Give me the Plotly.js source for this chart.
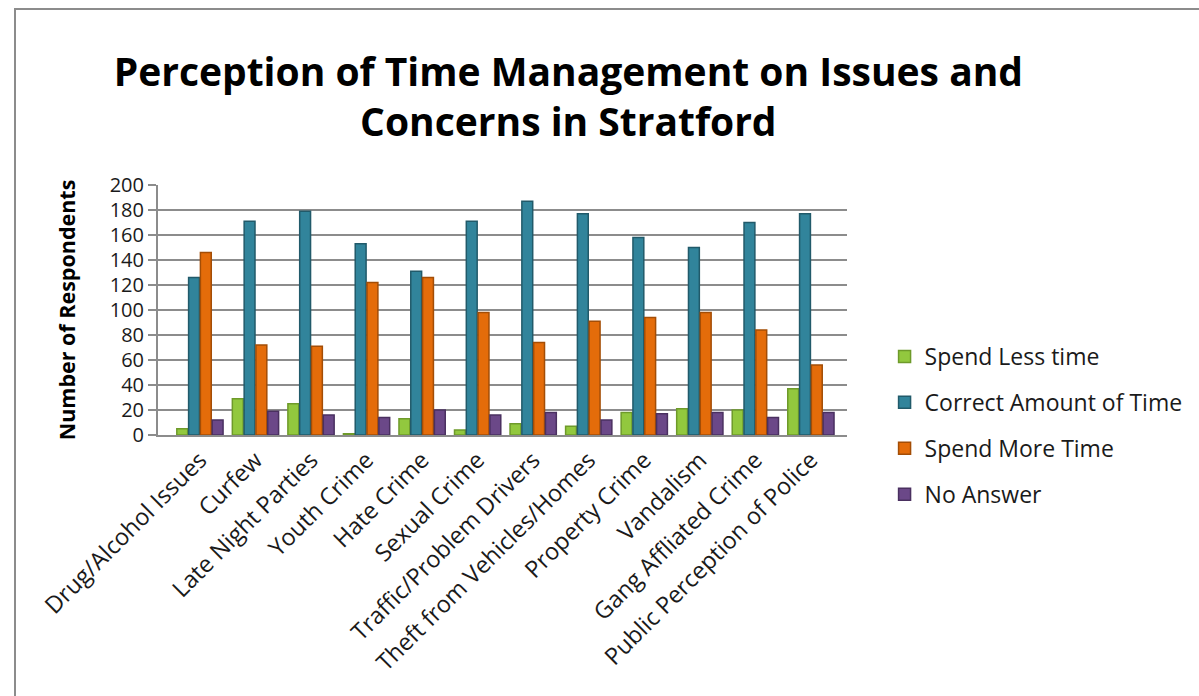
<!DOCTYPE html>
<html>
<head>
<meta charset="utf-8">
<script src="https://cdn.plot.ly/plotly-3.0.1.min.js"></script>
<style>
  html, body { margin: 0; padding: 0; background: #fff; }
  #chart { width: 1199px; height: 696px; }
  #frame { position: absolute; left: 14px; top: 8px; width: 1300px; height: 800px;
           border-left: 2px solid #8c8c8c; border-top: 2px solid #8c8c8c; pointer-events: none; }
</style>
</head>
<body>
<div id="chart"></div>
<div id="frame"></div>
<script>
const categories = ["Drug/Alcohol Issues", "Curfew", "Late Night Parties", "Youth Crime", "Hate Crime",
  "Sexual Crime", "Traffic/Problem Drivers", "Theft from Vehicles/Homes", "Property Crime",
  "Vandalism", "Gang Affliated Crime", "Public Perception of Police"];
const spendLess  = [5, 29, 25, 1, 13, 4, 9, 7, 18, 21, 20, 37];
const correct    = [126, 171, 179, 153, 131, 171, 187, 177, 158, 150, 170, 177];
const spendMore  = [146, 72, 71, 122, 126, 98, 74, 91, 94, 98, 84, 56];
const noAnswer   = [12, 19, 16, 14, 20, 16, 18, 12, 17, 18, 14, 18];
const seriesNames = ["Spend Less time", "Correct Amount of Time", "Spend More Time", "No Answer"];
const seriesColors = ["#92C83E", "#31849B", "#E46C0A", "#6B4888"];
const edgeColors = ["#6E9A2A", "#215A6A", "#A34D06", "#4A3060"];
const series = [spendLess, correct, spendMore, noAnswer];

const FONT = "'Open Sans', Lato, sans-serif";

const traces = series.map((vals, i) => ({
  type: "bar",
  name: seriesNames[i],
  x: categories,
  y: vals,
  marker: { color: seriesColors[i], line: { color: edgeColors[i], width: 1.5 } },
  legendgroup: "g" + i
}));

const layout = {
  width: 1199, height: 696,
  paper_bgcolor: "#ffffff", plot_bgcolor: "#ffffff",
  margin: { l: 158, r: 351, t: 185, b: 261 },
  barmode: "group",
  bargap: 0.15,
  bargroupgap: 0.08,
  font: { family: FONT, color: "#1a1a1a" },
  title: {
    text: "<b>Perception of Time Management on Issues and<br>Concerns in Stratford</b>",
    font: { family: FONT, size: 39, color: "#000" },
    x: 0.474, xanchor: "center", xref: "container",
    y: 0.877, yanchor: "top", yref: "container"
  },
  xaxis: {
    range: [-0.755, 11.65],
    tickangle: -45,
    tickfont: { size: 23.5, family: FONT, color: "#1a1a1a" },
    showline: true, linecolor: "#8c8c8c", linewidth: 2,
    showgrid: false, ticks: "",
    automargin: false
  },
  yaxis: {
    range: [0, 200],
    dtick: 20,
    tickfont: { size: 20, family: FONT, color: "#1a1a1a" },
    showgrid: true, gridcolor: "#8c8c8c", gridwidth: 2,
    showline: true, linecolor: "#8c8c8c", linewidth: 2,
    ticks: "outside", ticklen: 8, tickcolor: "#8c8c8c", tickwidth: 2,
    zeroline: false,
    title: { text: "<b>Number of Respondents</b>", font: { size: 21.5, family: FONT, color: "#000" }, standoff: 28 },
    automargin: false
  },
  legend: {
    x: 1.053, xanchor: "left", y: 0.4, yanchor: "top",
    font: { size: 23, family: FONT, color: "#1a1a1a" },
    traceorder: "grouped", tracegroupgap: 13,
    itemwidth: 30
  },
  showlegend: true
};

Plotly.newPlot("chart", traces, layout, { displayModeBar: false, staticPlot: true });
</script>
</body>
</html>
